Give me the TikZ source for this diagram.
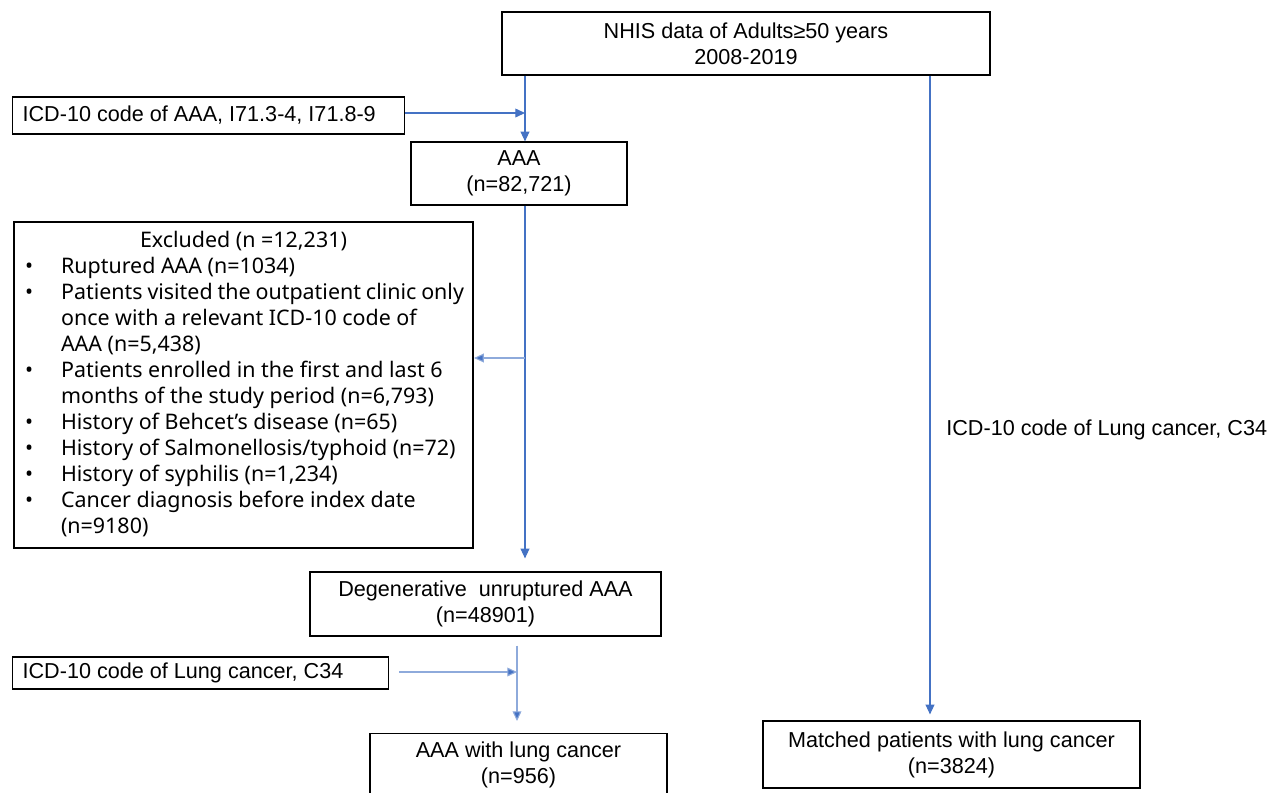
\documentclass[tikz,border=0pt]{standalone}
\usepackage{fontspec}
\setmainfont{Liberation Sans}
\newfontfamily\exfont{Noto Sans}
\usetikzlibrary{arrows.meta,calc}
\definecolor{conn}{HTML}{4472C4}
\definecolor{connlight}{HTML}{8EAADB}
\tikzset{
  box/.style={draw=black, line width=0.7pt, align=center, inner sep=0pt,
    font=\fontsize{12.3}{14.8}\selectfont},
  leftbox/.style={draw=black, line width=0.7pt, inner xsep=0.2cm, inner ysep=0pt,
    font=\fontsize{12.3}{14.8}\selectfont},
  exbox/.style={draw=black, line width=1.3pt, inner xsep=0.18cm, inner ysep=0pt,
    font=\exfont\fontsize{12.2}{14.8}\selectfont},
  flow/.style={draw=conn, line width=0.65pt, -{Triangle[length=5.5pt,width=5pt]}},
  flowlight/.style={draw=connlight, line width=0.6pt, -{Triangle[length=5.5pt,width=5pt,fill=conn]}},
  label/.style={font=\fontsize{12.3}{14.8}\selectfont, inner sep=0pt}
}
\begin{document}
\begin{tikzpicture}[x=0.02cm,y=-0.02cm]
\useasboundingbox (0,0) rectangle (1285,792);

% boxes
\node[box, minimum width=9.76cm, minimum height=1.26cm] (nhis) at (746,43.5)
  {NHIS data of Adults≥50 years\\2008-2019};
\node[leftbox, minimum height=0.74cm, anchor=west] (icdaaa) at (12,115.5)
  {\makebox[7.44cm][l]{ICD-10 code of AAA, I71.3-4, I71.8-9}};
\node[box, minimum width=4.32cm, minimum height=1.26cm] (aaa) at (519,173.5)
  {AAA\\(n=82,721)};
\node[exbox, minimum width=9.18cm, minimum height=6.52cm] (excl) at (243.5,385)
  {\begin{tabular}{@{}p{0.76cm}@{}p{8.06cm}@{}}
   \multicolumn{2}{@{}c@{}}{Excluded (n =12,231)}\\
   \hspace{0.04cm}• & Ruptured AAA (n=1034)\\
   \hspace{0.04cm}• & Patients visited the outpatient clinic only\\
    & once with a relevant ICD-10 code of\\
    & AAA (n=5,438)\\
   \hspace{0.04cm}• & Patients enrolled in the first and last 6\\
    & months of the study period (n=6,793)\\
   \hspace{0.04cm}• & History of Behcet’s disease (n=65)\\
   \hspace{0.04cm}• & History of Salmonellosis/typhoid (n=72)\\
   \hspace{0.04cm}• & History of syphilis (n=1,234)\\
   \hspace{0.04cm}• & Cancer diagnosis before index date\\
    & (n=9180)
   \end{tabular}};
\node[box, minimum width=7.02cm, minimum height=1.28cm] (deg) at (485.5,604)
  {Degenerative\ \ unruptured AAA\\(n=48901)};
\node[leftbox, minimum height=0.64cm, anchor=west] (icdlung) at (12,673)
  {\makebox[7.12cm][l]{ICD-10 code of Lung cancer, C34}};
\node[box, minimum width=5.94cm, minimum height=1.26cm, anchor=north] (aaalung) at (518.5,733)
  {AAA with lung cancer\\(n=956)};
\node[box, minimum width=7.54cm, minimum height=1.34cm] (match) at (951.5,754.5)
  {Matched patients with lung cancer\\(n=3824)};
\node[label, anchor=west] (lunglabel) at (946,430) {ICD-10 code of Lung cancer, C34};

% reference x positions
\coordinate (cx) at (525,0);
\coordinate (lx) at (517,0);
\coordinate (rx) at (930,0);
\coordinate (branch) at (525,358);

% connectors
\draw[flow] (nhis.south -| cx) -- (aaa.north -| cx);
\draw[flow] (icdaaa.east |- 0,113) -- (cx |- 0,113);
\draw[flow] (aaa.south -| cx) -- ($(deg.north -| cx)+(0,-13)$);
\draw[flowlight] (branch) -- (excl.east |- branch);
\draw[flowlight] ($(deg.south -| lx)+(0,9)$) -- ($(aaalung.north -| lx)+(0,-12)$);
\draw[flowlight] ($(icdlung.east)+(10,-1)$) -- ($(icdlung.east -| lx)+(0,-1)$);
\draw[flow] (nhis.south -| rx) -- ($(match.north -| rx)+(0,-6)$);
\end{tikzpicture}
\end{document}
